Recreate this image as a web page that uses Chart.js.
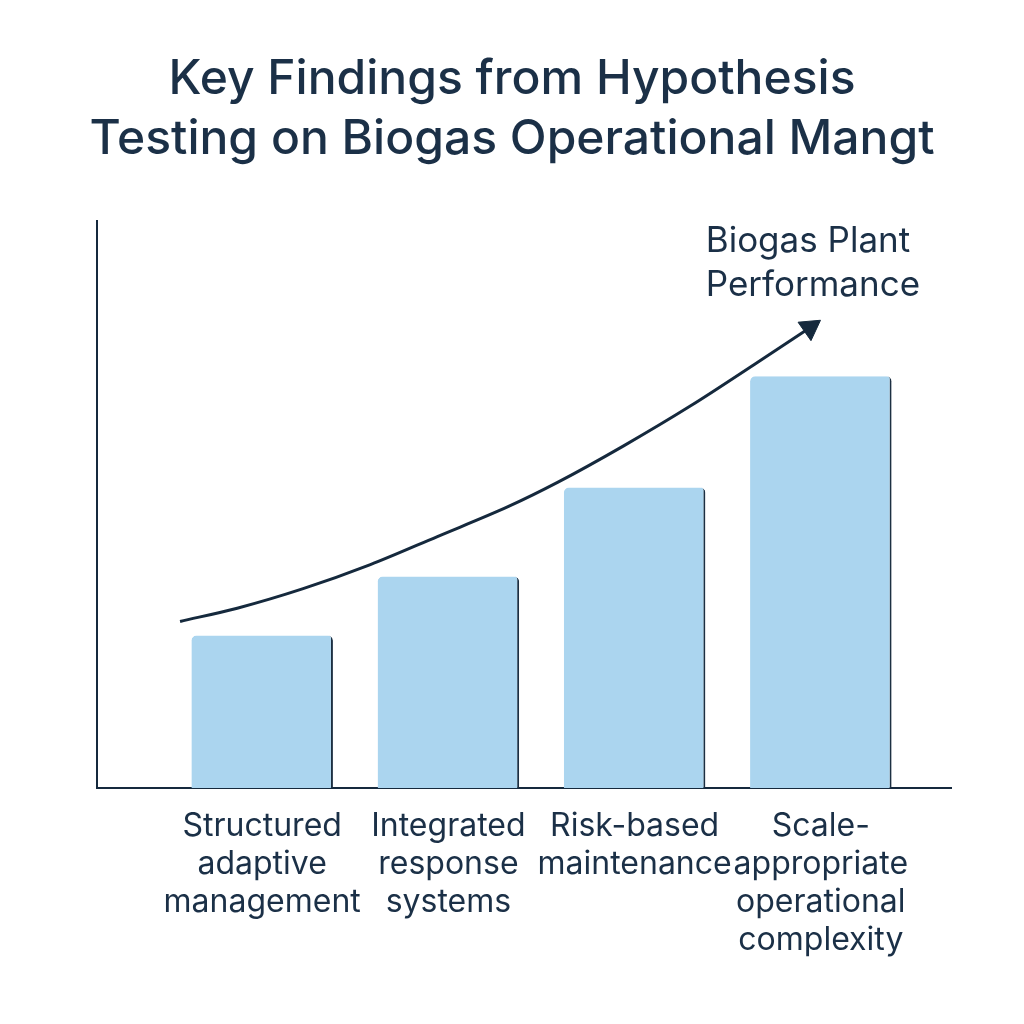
<!DOCTYPE html>
<html>
<head>
<meta charset="utf-8">
<script src="https://cdn.jsdelivr.net/npm/chart.js@4"></script>
<style>
  html, body { margin: 0; padding: 0; background: #ffffff; }
  #wrap { width: 1024px; height: 1024px; }
</style>
</head>
<body>
<div id="wrap"><canvas id="c" width="1024" height="1024"></canvas></div>
<script>
// ---- data ----
const titleLines = ['Key Findings from Hypothesis', 'Testing on Biogas Operational Mangt'];
const categories = [
  ['Structured', 'adaptive', 'management'],
  ['Integrated', 'response', 'systems'],
  ['Risk-based', 'maintenance'],
  ['Scale-', 'appropriate', 'operational', 'complexity']
];
const categoryPositions = [1, 2, 3, 4];
const performance = [26.9, 37.3, 53.0, 72.6];
const trendX = [0.559, 0.866, 1.220, 1.581, 1.941, 2.323, 2.586, 2.941, 3.301, 3.661, 3.941];
const trendY = [29.38, 31.71, 35.16, 39.40, 44.35, 49.65, 53.89, 60.34, 67.40, 75.09, 81.18];
const annotationLines = ['Biogas Plant', 'Performance'];

// ---- styles ----
const FONT = 'Inter, "Open Sans", sans-serif';
const NAVY = '#1b3047';
const LINE = '#15293d';
const BAR = '#abd5ef';

const annotationPlugin = {
  id: 'annotationText',
  afterDatasetsDraw(chart) {
    const { ctx, scales } = chart;
    const x = scales.x.getPixelForValue(3.382);
    const y = scales.y.getPixelForValue(96.3);
    ctx.save();
    ctx.font = '400 35px ' + FONT;
    ctx.fillStyle = NAVY;
    ctx.textAlign = 'left';
    ctx.textBaseline = 'middle';
    annotationLines.forEach((t, i) => ctx.fillText(t, x, y + i * 44));
    ctx.restore();
  }
};

new Chart(document.getElementById('c'), {
  data: {
    datasets: [
      {
        type: 'bar',
        label: 'Performance',
        data: categoryPositions.map((p, i) => ({ x: p, y: performance[i] })),
        backgroundColor: BAR,
        borderColor: '#1c2f42',
        borderWidth: { top: 0, left: 0, bottom: 0, right: 2 },
        borderSkipped: 'start',
        borderRadius: 5,
        barPercentage: 0.76,
        categoryPercentage: 1.0,
        order: 2
      },
      {
        type: 'line',
        label: 'Trend',
        data: trendX.map((x, i) => ({ x: x, y: trendY[i] })),
        borderColor: LINE,
        borderWidth: 3,
        cubicInterpolationMode: 'monotone',
        fill: false,
        pointStyle: 'triangle',
        pointRadius: ctx => ctx.dataIndex === trendX.length - 1 ? 13 : 0,
        pointHoverRadius: ctx => ctx.dataIndex === trendX.length - 1 ? 13 : 0,
        pointRotation: 55,
        pointBackgroundColor: LINE,
        pointBorderColor: LINE,
        pointBorderWidth: 1,
        order: 1
      }
    ]
  },
  options: {
    responsive: false,
    animation: false,
    events: [],
    layout: { padding: 0 },
    plugins: {
      legend: { display: false },
      tooltip: { enabled: false },
      title: {
        display: true,
        text: titleLines,
        color: NAVY,
        font: { family: FONT, size: 48, weight: '500', lineHeight: '60px' },
        padding: { top: 50, bottom: 51 }
      }
    },
    scales: {
      x: {
        type: 'linear',
        position: 'bottom',
        min: 0.113,
        max: 4.699,
        offset: false,
        grid: { display: false, drawTicks: false, offset: false },
        border: { display: true, color: LINE, width: 2 },
        afterBuildTicks: axis => { axis.ticks = categoryPositions.map(v => ({ value: v })); },
        afterFit: s => { s.height = 236; },
        ticks: {
          autoSkip: false,
          maxRotation: 0,
          minRotation: 0,
          padding: 19,
          color: NAVY,
          font: { family: FONT, size: 32, lineHeight: '38px' },
          callback: v => categories[categoryPositions.indexOf(v)]
        }
      },
      y: {
        type: 'linear',
        position: 'left',
        min: 0,
        max: 100,
        grid: { display: false, drawTicks: false },
        border: { display: true, color: LINE, width: 2 },
        ticks: { display: false },
        afterFit: s => { s.width = 97; }
      },
      yRight: {
        type: 'linear',
        position: 'right',
        display: true,
        grid: { display: false, drawTicks: false },
        border: { display: false },
        ticks: { display: false },
        afterFit: s => { s.width = 73; }
      }
    }
  },
  plugins: [annotationPlugin]
});
</script>
</body>
</html>
